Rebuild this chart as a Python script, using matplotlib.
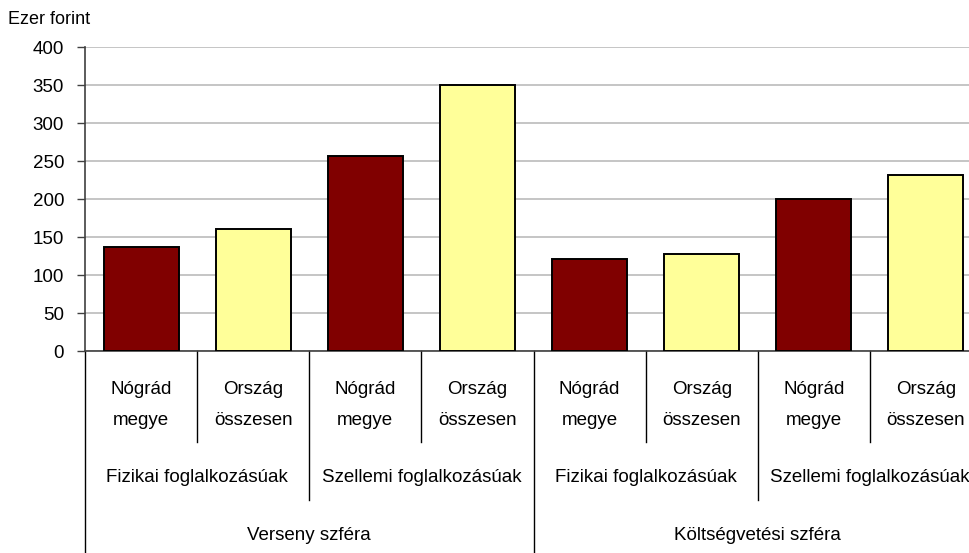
import matplotlib.pyplot as plt
from matplotlib.transforms import blended_transform_factory

plt.rcParams['font.family'] = ['Liberation Sans', 'DejaVu Sans']

# data
values = [137, 161, 256, 350, 121, 127, 200, 232]
colors = ['#800000', '#FFFF99'] * 4
lvl1 = ['Nógrád\nmegye', 'Ország\nösszesen'] * 4
lvl2 = ['Fizikai foglalkozásúak', 'Szellemi foglalkozásúak'] * 2
lvl3 = ['Verseny szféra', 'Költségvetési szféra']
yticks = [0, 50, 100, 150, 200, 250, 300, 350, 400]

W, H = 969, 553
fig = plt.figure(figsize=(W / 100, H / 100), dpi=100)
left, right, top, bottom = 85, 982, 47, 351
ax = fig.add_axes([left / W, (H - bottom) / H, (right - left) / W, (bottom - top) / H])

x = list(range(len(values)))
ax.bar(x, values, width=0.67, color=colors, edgecolor='black', linewidth=1.4, zorder=3)

ax.set_xlim(-0.5, len(values) - 0.5)
ax.set_ylim(0, 400)
ax.set_yticks(yticks)
ax.yaxis.grid(True, color='#BBBBBB', linewidth=1.2, zorder=0)
ax.set_axisbelow(True)
ax.tick_params(axis='y', labelsize=13.5, length=6, width=1, pad=9, color='#404040')
ax.set_xticks([])
for s in ['top', 'right']:
    ax.spines[s].set_visible(False)
ax.spines['left'].set_color('#404040')
ax.spines['bottom'].set_color('#404040')
ax.spines['left'].set_linewidth(1.2)
ax.spines['bottom'].set_linewidth(1.2)

fig.text(8 / W, 1 - 20 / H, 'Ezer forint', fontsize=13, va='center', ha='left')

tr = blended_transform_factory(ax.transData, ax.transAxes)
ah = bottom - top


def ypos(py):
    return (bottom - py) / ah


# level 1 labels
for i, lab in enumerate(lvl1):
    ax.text(i, ypos(405), lab, transform=tr, ha='center', va='center',
            fontsize=13.5, linespacing=2.15)
# level 2 labels
for j, lab in enumerate(lvl2):
    ax.text(2 * j + 0.5, ypos(478), lab, transform=tr, ha='center', va='center', fontsize=13.5)
# level 3 labels
for k, lab in enumerate(lvl3):
    ax.text(4 * k + 1.5, ypos(536), lab, transform=tr, ha='center', va='center', fontsize=13.5)

# separator lines
for b in range(len(values) + 1):
    xb = b - 0.5
    if b % 4 == 0:
        yend = 553
    elif b % 2 == 0:
        yend = 500
    else:
        yend = 442
    ax.plot([xb, xb], [0, ypos(yend)], transform=tr, color='black',
            linewidth=1.0, clip_on=False)

fig.savefig('out.png', dpi=100)
